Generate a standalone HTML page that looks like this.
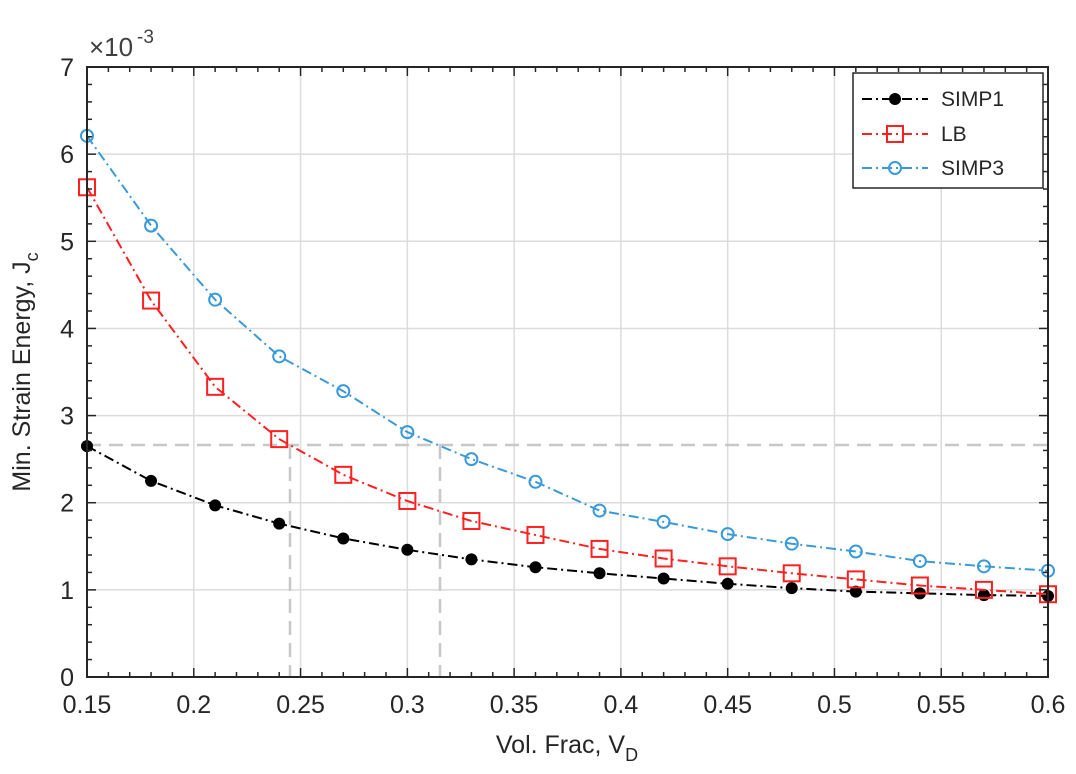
<!DOCTYPE html>
<html><head><meta charset="utf-8"><style>
html,body{margin:0;padding:0;background:#fff;}
svg{display:block;font-family:"Liberation Sans",Arial,sans-serif;}
</style></head><body>
<svg id="s" width="1076" height="774" viewBox="0 0 1076 774">
<rect width="1076" height="774" fill="#fff"/>
<g id="grid" stroke="#dcdcdc" stroke-width="1.5"></g>
<g stroke="#c8c8c8" stroke-width="2.5" stroke-dasharray="14,8" fill="none">
<line x1="87" y1="445" x2="1048" y2="445"/>
<line x1="290" y1="445" x2="290" y2="677"/>
<line x1="440" y1="445" x2="440" y2="677"/>
</g>
<g id="series"></g>
<rect x="87" y="67" width="961" height="610" fill="none" stroke="#262626" stroke-width="2"/>
<g id="ticks" stroke="#262626" stroke-width="1.5"></g>
<g id="labels" font-size="25" fill="#262626"></g>
<text x="89" y="56" font-size="26" fill="#404040">×10</text>
<text x="137" y="43" font-size="19" fill="#404040">-3</text>
<text transform="translate(30,372) rotate(-90)" text-anchor="middle" font-size="25" fill="#262626">Min. Strain Energy, J<tspan font-size="18" dy="8">c</tspan></text>
<text x="567" y="753" text-anchor="middle" font-size="25" fill="#262626">Vol. Frac, V<tspan font-size="18" dy="8">D</tspan></text>
<rect x="853" y="73" width="190" height="115" fill="#fff" stroke="#262626" stroke-width="1.5"/>
<g stroke-width="2" fill="none" stroke-dasharray="10,4,2,4">
<line x1="862" y1="99" x2="928" y2="99" stroke="#000"/>
<line x1="862" y1="134" x2="928" y2="134" stroke="#ff2020"/>
<line x1="862" y1="168" x2="928" y2="168" stroke="#3a9ad8"/>
</g>
<circle cx="895" cy="99" r="6" fill="#000"/>
<rect x="887" y="126" width="16" height="16" fill="none" stroke="#ff2020" stroke-width="2"/>
<circle cx="895" cy="168" r="6" fill="none" stroke="#3a9ad8" stroke-width="2"/>
<g font-size="21" fill="#262626">
<text x="941" y="106">SIMP1</text>
<text x="941" y="141">LB</text>
<text x="941" y="175">SIMP3</text>
</g>
</svg>
<script>
var X=v=>87+(v-0.15)/0.05*106.78, Y=v=>677-v*87.14;
var ns="http://www.w3.org/2000/svg";
function el(p,t,a){var e=document.createElementNS(ns,t);for(var k in a)e.setAttribute(k,a[k]);p.appendChild(e);return e;}
var g=document.getElementById('grid'),tk=document.getElementById('ticks'),lb=document.getElementById('labels');
for(var i=1;i<9;i++){var x=X(0.15+i*0.05);el(g,'line',{x1:x,y1:67,x2:x,y2:677});}
for(var j=1;j<7;j++){el(g,'line',{x1:87,y1:Y(j),x2:1048,y2:Y(j)});}
for(var i=0;i<=45;i++){var x=X(0.15+i*0.01),L=i%5==0?9:5;el(tk,'line',{x1:x,y1:677,x2:x,y2:677-L});el(tk,'line',{x1:x,y1:67,x2:x,y2:67+L});}
for(var j=0;j<=35;j++){var y=Y(j*0.2),L=j%5==0?9:5;el(tk,'line',{x1:87,y1:y,x2:87+L,y2:y});el(tk,'line',{x1:1048,y1:y,x2:1048-L,y2:y});}
var xl=['0.15','0.2','0.25','0.3','0.35','0.4','0.45','0.5','0.55','0.6'];
xl.forEach((t,i)=>{var e=el(lb,'text',{x:X(0.15+i*0.05),y:713,'text-anchor':'middle'});e.textContent=t;});
for(var j=0;j<=7;j++){var e=el(lb,'text',{x:74,y:Y(j)+9,'text-anchor':'end'});e.textContent=j;}
var xs=[];for(var i=0;i<16;i++)xs.push(0.15+i*0.03);
var S1=[2.65,2.25,1.97,1.76,1.59,1.46,1.35,1.26,1.19,1.13,1.07,1.02,0.98,0.96,0.94,0.93];
var LB=[5.62,4.32,3.33,2.73,2.32,2.02,1.79,1.63,1.47,1.36,1.27,1.19,1.12,1.05,1.00,0.95];
var S3=[6.21,5.18,4.33,3.68,3.28,2.81,2.50,2.24,1.91,1.78,1.64,1.53,1.44,1.33,1.27,1.22];
var sg=document.getElementById('series');
function ser(d,c,m){var p=d.map((v,i)=>X(xs[i]).toFixed(1)+','+Y(v).toFixed(1)).join(' ');
el(sg,'polyline',{points:p,fill:'none',stroke:c,'stroke-width':2,'stroke-dasharray':'10,4,2,4'});
d.forEach((v,i)=>{var x=X(xs[i]),y=Y(v);
if(m=='dot')el(sg,'circle',{cx:x,cy:y,r:6,fill:c});
else if(m=='sq')el(sg,'rect',{x:x-8,y:y-8,width:16,height:16,fill:'none',stroke:c,'stroke-width':2});
else el(sg,'circle',{cx:x,cy:y,r:6,fill:'none',stroke:c,'stroke-width':2});});}
ser(S3,'#3a9ad8','o');ser(S1,'#000','dot');ser(LB,'#ff2020','sq');
</script>
</body></html>
